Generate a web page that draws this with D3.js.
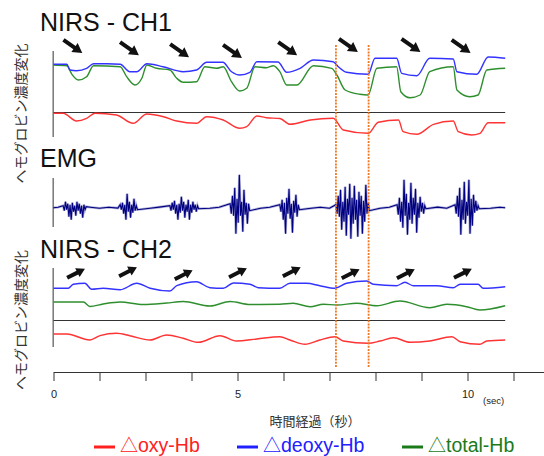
<html>
  <head>
    <title>NIRS / EMG</title>
    <script src="https://cdn.jsdelivr.net/npm/d3@7"></script>
    <style type="text/css">

body {
  margin: 0;
  background: #fff;
}

.title {
  font: 25px "Liberation Sans", Arial, sans-serif;
  fill: #111;
}

.ylab {
  font: 14px "Noto Sans CJK JP", sans-serif;
  fill: #333;
}

.trace {
  fill: none;
  stroke-width: 1.4px;
  stroke-linejoin: round;
}

.frame {
  stroke: #777;
  stroke-width: 1.5px;
}

.zero {
  stroke: #333;
  stroke-width: 1.2px;
}

.axis text {
  font: 11px "Liberation Sans", Arial, sans-serif;
  fill: #222;
}

.axis path, .axis line {
  stroke: #333;
}

    </style>
  </head>
  <body>
    <script type="text/javascript">

// time axis (tick units), labels shown only on some ticks
var xTicks = d3.range(0, 11),
    xTickLabels = ["0", "", "", "", "5", "", "", "", "", "10", ""];

// NIRS CH1  [t, value]
var ch1Deoxy = [[0,4.82],[0.29,4.82],[0.36,4.25],[0.5,4.18],[0.72,4.42],[0.87,4.88],[1.16,4.88],[1.45,4.82],
  [1.66,4.08],[1.81,4.08],[2.03,4.88],[2.38,4.58],[2.82,4.08],[3.11,4.25],[3.33,5.02],[3.68,5.02],[3.87,4.08],
  [4.05,3.75],[4.27,4.02],[4.42,5.08],[4.88,5.05],[5.07,4.02],[5.36,4.42],[5.65,5.25],[6.08,5.08],[6.19,4.58],
  [6.37,4.02],[6.84,3.82],[6.99,5.42],[7.46,5.42],[7.57,3.92],[7.9,3.68],[8.18,5.42],[8.69,5.35],[8.77,4.08],
  [9.2,3.82],[9.45,5.55],[9.82,5.42]];
var ch1Total = [[0,4.75],[0.29,4.68],[0.4,3.82],[0.54,3.25],[0.72,3.58],[0.87,4.68],[1.45,4.58],[1.59,3.58],
  [1.77,2.75],[1.92,3.42],[2.03,4.75],[2.24,4.42],[2.53,4.25],[2.68,3.42],[2.82,3.02],[3.11,3.08],[3.29,4.58],
  [3.55,4.42],[3.69,4.58],[3.87,3.08],[4.05,2.15],[4.2,2.42],[4.38,4.58],[4.63,4.48],[4.78,4.68],[4.92,4.08],
  [5.07,2.75],[5.29,2.75],[5.65,4.68],[6.05,4.42],[6.16,3.75],[6.34,2.25],[6.66,1.82],[6.84,1.75],[7.03,4.42],
  [7.46,4.58],[7.55,2.08],[7.75,1.48],[7.97,1.75],[8.18,4.08],[8.69,4.58],[8.77,2.25],[9.05,1.58],[9.23,1.75],
  [9.42,4.25],[9.82,4.42]];
var ch1Oxy = [[0,-0.08],[0.21,-0.08],[0.5,-0.85],[0.72,-0.58],[0.9,-0.08],[1.37,-0.25],[1.73,-1.08],[2.03,-0.15],
  [2.39,-0.42],[2.68,-0.85],[3.11,-1.08],[3.33,-0.42],[3.69,-0.75],[4.05,-1.58],[4.2,-1.42],[4.42,-0.35],
  [4.63,-0.52],[4.92,-0.6],[5.14,-1.18],[5.58,-0.75],[6.08,-0.58],[6.3,-1.75],[6.84,-2.08],[7.06,-0.98],
  [7.5,-0.75],[7.6,-1.92],[7.9,-2.18],[8.26,-1.18],[8.69,-0.85],[8.8,-1.92],[9.09,-2.25],[9.27,-2.08],
  [9.45,-1.02],[9.82,-1.02]];

// NIRS CH2
var ch2Deoxy = [[0,3.22],[0.32,3.22],[0.43,3.62],[0.68,3.72],[0.83,3.12],[1.08,3.22],[1.45,3.08],[1.81,3.72],
  [2.1,3.22],[2.53,2.95],[2.68,3.48],[3.11,3.88],[3.4,3.28],[3.69,3.22],[3.91,3.75],[4.27,3.62],[4.45,3.28],
  [4.92,3.22],[5.14,3.72],[5.5,3.72],[5.79,3.48],[6.12,3.22],[6.37,3.72],[6.81,3.95],[6.95,3.62],[7.46,3.48],
  [7.64,3.82],[7.82,3.48],[8.33,3.48],[8.69,3.28],[8.84,3.62],[9.23,3.62],[9.34,3.22],[9.82,3.38]];
var ch2Total = [[0,1.85],[0.65,1.85],[0.79,1.4],[1.08,1.65],[1.45,1.85],[1.95,1.6],[2.46,1.75],[2.82,1.9],
  [3.4,1.45],[3.84,1.9],[4.27,1.6],[4.92,1.62],[5.21,1.72],[5.58,1.38],[5.87,1.62],[6.16,1.55],[6.59,1.72],
  [7.03,1.48],[7.53,1.95],[8.18,1.28],[8.55,1.62],[8.98,1.38],[9.27,1.05],[9.82,1.48]];
var ch2Oxy = [[0,-1.35],[0.29,-1.35],[0.79,-1.95],[1.01,-1.52],[1.37,-1.28],[1.66,-1.52],[2.1,-1.95],[2.46,-1.45],
  [2.82,-1.78],[3.15,-2.18],[3.62,-1.52],[3.98,-2.05],[4.42,-1.85],[4.92,-1.62],[5.14,-1.95],[5.47,-2.38],
  [5.79,-1.95],[6.12,-1.62],[6.3,-2.05],[6.84,-2.28],[7.1,-2.05],[7.39,-1.72],[7.75,-2.18],[8.18,-2.05],
  [8.66,-1.62],[8.84,-2.12],[9.27,-2.38],[9.42,-2.05],[9.82,-1.95]];

// EMG: quiet samples and bursts (burst samples every emgStep)
var emgStep = 0.025;
var emgRest = [[0,0],[0.1,0.05],[0.2,-0.05],[0.8,0.05],[1.0,-0.06],[1.2,0.05],[1.4,-0.04],[1.9,0.05],[2.1,-0.05],
  [2.3,0.06],[2.5,-0.04],[3.2,0.05],[3.4,-0.06],[3.6,0.05],[3.8,-0.05],[4.3,0.06],[4.5,-0.05],[4.7,0.05],[4.9,-0.04],
  [5.4,0.05],[5.6,-0.06],[5.8,0.05],[6.0,-0.05],[6.9,0.06],[7.1,-0.05],[7.3,0.05],[8.15,-0.05],[8.35,0.06],
  [8.55,-0.05],[9.3,0.05],[9.5,-0.06],[9.7,0.05],[9.82,0]];
var emgBursts = [
  {t0: 0.21, v: [0.2,-0.3,0.6,-0.2,0.4,-0.9,0.3,-1.2,0.5,-0.4,0.2,-0.8,0.6,-0.3,0.4,-0.6,0.2,-1.0,0.3,-0.2,0.1]},
  {t0: 1.45, v: [0.3,-0.2,0.5,-0.6,0.3,-1.2,1.4,-0.4,0.6,-1.0,0.3,-0.5,0.9,-0.3,0.2,-0.2]},
  {t0: 2.53, v: [0.2,-0.3,0.5,-0.2,0.7,-0.6,0.3,-1.2,0.4,-0.5,1.1,-0.3,0.6,-1.0,0.3,-0.4,0.8,-1.2,0.3,-0.5,0.6,-0.2,0.3,-0.4,0.2,-0.1]},
  {t0: 3.84, v: [0.4,-0.6,1.2,-0.8,2.0,-2.6,0.9,-1.5,3.3,-0.8,0.6,-2.4,1.8,-0.7,0.5,-1.6,0.4,-0.3]},
  {t0: 4.92, v: [0.3,-0.4,0.8,-1.2,0.5,-2.6,1.0,-0.6,1.9,-1.1,0.4,-2.5,0.7,-0.5,1.3,-0.9,0.3,-0.2]},
  {t0: 6.14, v: [0.3,-0.6,1.2,-0.9,1.8,-2.2,0.6,-1.4,2.1,-2.8,0.9,-0.7,2.4,-3.1,1.0,-1.6,2.2,-1.2,0.8,-2.9,1.6,-0.8,1.2,-2.6,0.7,-1.4,2.3,-0.6,0.5,-0.3]},
  {t0: 7.47, v: [0.3,-0.7,1.0,-1.4,0.6,-2.0,2.8,-0.8,1.4,-2.7,0.5,-1.2,2.5,-1.6,1.0,-0.7,1.9,-2.5,0.5,-1.0,1.1,-0.4,0.5,-0.6,0.2,-0.1]},
  {t0: 8.73, v: [0.3,-0.6,1.2,-0.9,2.0,-2.7,0.8,-1.2,2.6,-1.6,0.6,-0.8,2.8,-2.6,0.9,-1.8,1.3,-0.5,0.7,-0.3,0.2,-0.1]}
];

// task arrows [t, value]
var ch1Arrows = [[0.43,6.58],[1.66,6.35],[2.75,6.15],[3.9,6.08],[5.1,6.35],[6.42,6.68],[7.78,6.68],[8.87,6.58]];
var ch2Arrows = [[0.49,4.72],[1.62,4.88],[2.83,4.58],[4.01,4.78],[5.18,4.88],[6.46,4.68],[7.66,4.68],[8.9,4.72]];

// event markers (t)
var markers = [6.14, 6.85];

var legendNames = ["oxy-Hb", "deoxy-Hb", "total-Hb"],
    legendColors = ["#ff2020", "#2020ff", "#1a7a1a"];

var w = 544,
    h = 456;

var colOxy = "#ff3333", colDeoxy = "#3333ff", colTotal = "#2f8f2f";

var svg = d3.select("body")
  .append("svg")
    .attr("width", w)
    .attr("height", h);

var x = d3.scaleLinear().domain([0, 10.7]).range([53.5, 545.7]);

var y1 = d3.scaleLinear().domain([-3, 7]).range([142.5, 42.5]),
    yE = d3.scaleLinear().domain([-4, 4]).range([247.7, 167.7]),
    y2 = d3.scaleLinear().domain([-3, 6]).range([350.5, 260.5]);

// titles
svg.append("text").attr("class", "title").attr("x", 40).attr("y", 30.5).text("NIRS - CH1");
svg.append("text").attr("class", "title").attr("x", 40).attr("y", 167).text("EMG");
svg.append("text").attr("class", "title").attr("x", 40).attr("y", 258).text("NIRS - CH2");

// y labels
[113.5, 320].forEach(function(cy) {
  svg.append("text")
      .attr("class", "ylab")
      .attr("transform", "translate(21," + cy + ") rotate(-90)")
      .attr("text-anchor", "middle")
      .attr("dy", ".35em")
      .text("ヘモグロビン濃度変化");
});

// panel frames
svg.append("line").attr("class", "frame").attr("x1", x(0) - 0.3).attr("x2", x(0) - 0.3).attr("y1", 51).attr("y2", 137);
svg.append("line").attr("class", "frame").attr("x1", x(0) - 0.3).attr("x2", x(0) - 0.3).attr("y1", 178).attr("y2", 227);
svg.append("line").attr("class", "frame").attr("x1", x(0) - 0.3).attr("x2", x(0) - 0.3).attr("y1", 268).attr("y2", 347);

svg.append("line").attr("class", "zero").attr("x1", x(0)).attr("x2", x(9.82)).attr("y1", y1(0)).attr("y2", y1(0));
svg.append("line").attr("class", "zero").attr("x1", x(0)).attr("x2", x(9.82)).attr("y1", y2(0)).attr("y2", y2(0));

function trace(data, yScale, color) {
  svg.append("path")
      .datum(data)
      .attr("class", "trace")
      .attr("stroke", color)
      .attr("d", d3.line()
        .curve(d3.curveMonotoneX)
        .x(function(d) { return x(d[0]); })
        .y(function(d) { return yScale(d[1]); }));
}

trace(ch1Total, y1, colTotal);
trace(ch1Deoxy, y1, colDeoxy);
trace(ch1Oxy, y1, colOxy);

trace(ch2Total, y2, colTotal);
trace(ch2Deoxy, y2, colDeoxy);
trace(ch2Oxy, y2, colOxy);

// EMG: keep quiet samples outside bursts, then add the bursts
var emg = emgRest.filter(function(d) {
  return !emgBursts.some(function(b) {
    return d[0] > b.t0 - 0.05 && d[0] < b.t0 + b.v.length * emgStep + 0.05;
  });
});
emgBursts.forEach(function(b) {
  b.v.forEach(function(v, i) { emg.push([b.t0 + i * emgStep, v]); });
});
emg.sort(function(a, b) { return a[0] - b[0]; });

var emgLine = d3.line()
    .x(function(d) { return x(d[0]); })
    .y(function(d) { return yE(d[1]); });

svg.append("path").datum(emg)
    .attr("fill", "none").attr("stroke", "#000080").attr("stroke-opacity", 0.3).attr("stroke-width", 2.6)
    .attr("d", emgLine);
svg.append("path").datum(emg)
    .attr("fill", "none").attr("stroke", "#000080").attr("stroke-width", 1.1)
    .attr("d", emgLine);

// arrows
svg.selectAll("path.a1")
    .data(ch1Arrows)
  .enter().append("path")
    .attr("class", "a1")
    .attr("d", "M-12,-2L1.5,-2L1.5,-5.5L11,0L1.5,5.5L1.5,2L-12,2Z")
    .attr("fill", "#111")
    .attr("transform", function(d) { return "translate(" + x(d[0]) + "," + y1(d[1]) + ") rotate(35)"; });

svg.selectAll("path.a2")
    .data(ch2Arrows)
  .enter().append("path")
    .attr("class", "a2")
    .attr("d", "M-10,-2L1.5,-2L1.5,-5L10,0L1.5,5L1.5,2L-10,2Z")
    .attr("fill", "#111")
    .attr("transform", function(d) { return "translate(" + x(d[0]) + "," + y2(d[1]) + ") rotate(-27)"; });

// event markers
svg.selectAll("line.marker")
    .data(markers)
  .enter().append("line")
    .attr("class", "marker")
    .attr("x1", function(d) { return x(d); })
    .attr("x2", function(d) { return x(d); })
    .attr("y1", 45)
    .attr("y2", 368)
    .attr("stroke", "#f07820")
    .attr("stroke-width", 1.8)
    .attr("stroke-dasharray", "2,1.2");

// time axis
var axis = svg.append("g")
    .attr("class", "axis")
    .attr("transform", "translate(0,372)")
    .call(d3.axisBottom(x)
      .tickValues(xTicks)
      .tickSize(9)
      .tickSizeOuter(0)
      .tickFormat(function(d, i) { return xTickLabels[i]; }));

axis.selectAll("text").attr("y", 18);

svg.append("text")
    .attr("x", 483).attr("y", 404)
    .style("font", "9.5px 'Liberation Sans', Arial, sans-serif")
    .attr("fill", "#222")
    .text("(sec)");

svg.append("text")
    .attr("x", 315).attr("y", 426)
    .attr("text-anchor", "middle")
    .style("font", "13px 'Noto Sans CJK JP', sans-serif")
    .attr("fill", "#333")
    .text("時間経過（秒）");

// legend
var legendX = [94, 237, 402];
var leg = svg.selectAll("g.leg")
    .data(legendNames)
  .enter().append("g")
    .attr("class", "leg")
    .attr("transform", function(d, i) { return "translate(" + legendX[i] + ",447)"; });

leg.append("line")
    .attr("x1", 0).attr("x2", 21)
    .attr("stroke", function(d, i) { return legendColors[i]; })
    .attr("stroke-width", 3);

var legText = leg.append("text")
    .attr("x", 26).attr("y", 5)
    .style("font", "19.5px 'Liberation Sans', Arial, sans-serif")
    .attr("fill", function(d, i) { return legendColors[i]; });

legText.append("tspan")
    .style("font-family", "'Noto Sans CJK JP', sans-serif")
    .style("font-size", "18px")
    .text("\u25b3");
legText.append("tspan")
    .text(function(d) { return d; });

    </script>
  </body>
</html>
